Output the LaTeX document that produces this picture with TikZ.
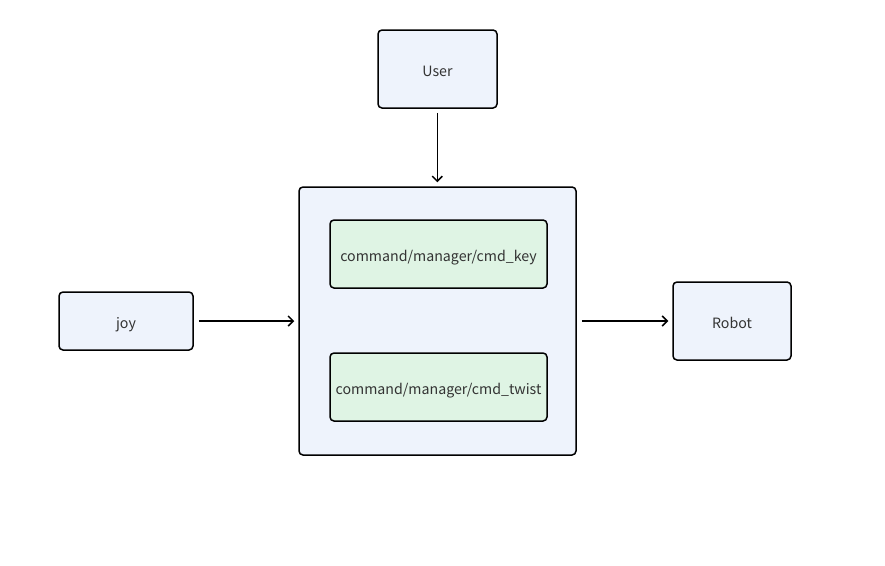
\documentclass[tikz,border=0pt]{standalone}
\usepackage{fontspec}
\setmainfont{Noto Sans CJK SC}
\usetikzlibrary{arrows.meta}
\definecolor{bluefill}{HTML}{EEF3FC}
\definecolor{greenfill}{HTML}{DFF4E4}
\definecolor{txt}{HTML}{333333}
\tikzset{
  box/.style={draw=black, line width=1.5pt, rounded corners=4pt, fill=bluefill, inner sep=0pt, text=txt, font=\fontsize{14.2}{16}\selectfont, text height=14pt, text depth=0pt},
  gbox/.style={box, fill=greenfill},
  conn/.style={draw=black, line width=1.5pt, -{Straight Barb[length=5pt,width=10pt,line width=1.5pt]}}
}
\begin{document}
\begin{tikzpicture}[x=1pt,y=-1pt]
\useasboundingbox[fill=white] (0,0) rectangle (885,565);
\node[box, minimum width=277pt, minimum height=268pt] (main) at (437.5,321) {};
\node[gbox, minimum width=217pt, minimum height=68pt] (key) at (438.5,254) {command/manager/cmd\_key};
\node[gbox, minimum width=217pt, minimum height=68pt] (twist) at (438.5,387) {command/manager/cmd\_twist};
\node[box, minimum width=119pt, minimum height=78pt] (user) at (437.5,69) {User};
\node[box, minimum width=134pt, minimum height=58pt] (joy) at (126,321) {joy};
\node[box, minimum width=118pt, minimum height=78pt] (robot) at (732,321) {Robot};
\draw[conn] ([yshift=-4pt,xshift=-0.25pt]user.south) -- ([yshift=4pt,xshift=-0.25pt]user.south |- main.north);
\draw[conn] ([xshift=5pt]joy.east) -- ([xshift=-4pt]joy.east -| main.west);
\draw[conn] ([xshift=5pt]main.east) -- ([xshift=-4pt]robot.west);
\end{tikzpicture}
\end{document}
